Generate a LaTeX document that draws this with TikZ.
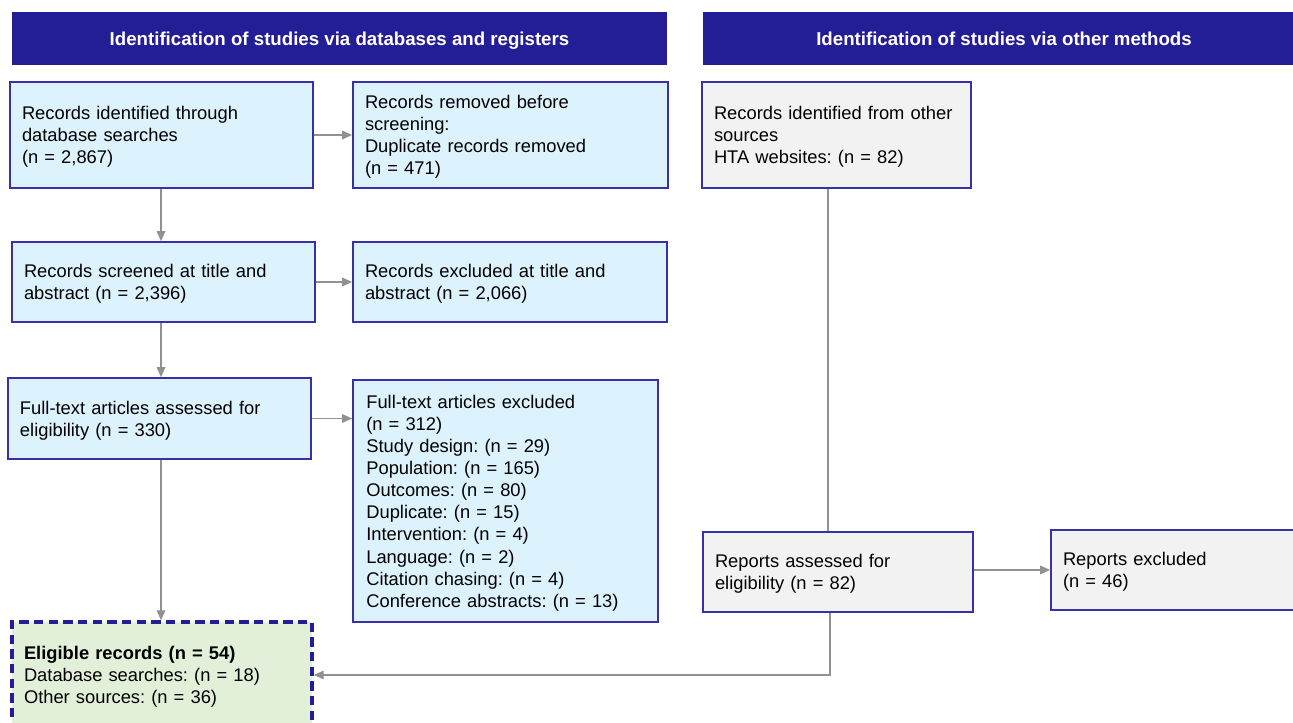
\documentclass[tikz,border=0pt]{standalone}
\usepackage{fontspec}
\setmainfont{Liberation Sans}
\usetikzlibrary{arrows.meta}
\definecolor{hdr}{RGB}{35,30,150}
\definecolor{bord}{RGB}{55,48,168}
\definecolor{lblue}{RGB}{220,242,252}
\definecolor{lgray}{RGB}{242,242,242}
\definecolor{lgreen}{RGB}{226,240,217}
\definecolor{arr}{RGB}{145,145,145}
\frenchspacing
\begin{document}
\begin{tikzpicture}[x=0.75pt,y=-0.75pt,
  header/.style={fill=hdr, draw=none, text=white, font=\fontsize{14pt}{16pt}\selectfont\bfseries, minimum height=39.75pt, inner sep=0pt, text depth=0pt},
  box/.style={draw=bord, line width=1.3pt, inner xsep=9pt, inner ysep=0pt, align=left, font=\fontsize{13.75pt}{16.6pt}\selectfont, execute at begin node={\rule{0pt}{13pt}}},
  bluebox/.style={box, fill=lblue},
  graybox/.style={box, fill=lgray},
  eligbox/.style={box, fill=lgreen, draw=hdr, line width=2.6pt, dash pattern=on 7pt off 4pt},
  conn/.style={draw=arr, line width=0.9pt, -{Triangle[length=7.5pt,width=6.5pt]}},
  plainconn/.style={draw=arr, line width=0.9pt}
]
\useasboundingbox (0,0) rectangle (1293,723);
\fill[white] (0,0) rectangle (1293,723);

\node[header, minimum width=491.25pt] (hL) at (339.5,38.5) {Identification of studies via databases and registers};
\node[header, minimum width=451.5pt] (hR) at (1004,38.5) {Identification of studies via other methods};

\node[bluebox, text width=209.25pt, minimum height=79.5pt] (A) at (161.5,135) {Records identified through\\database searches\\(n = 2,867)};
\node[bluebox, text width=218.25pt, minimum height=79.5pt] (B) at (510.5,135) {Records removed before\\screening:\\Duplicate records removed\\(n = 471)};
\node[bluebox, text width=209.25pt, minimum height=60pt] (C) at (163.5,282) {Records screened at title and\\abstract (n = 2,396)};
\node[bluebox, text width=217.5pt, minimum height=60pt] (D) at (510,282) {Records excluded at title and\\abstract (n = 2,066)};
\node[bluebox, text width=209.25pt, minimum height=60.75pt] (E) at (159.5,418.5) {Full-text articles assessed for\\eligibility (n = 330)};
\node[bluebox, text width=208.75pt, minimum height=181.5pt, inner xsep=10pt] (F) at (505.5,501) {Full-text articles excluded\\(n = 312)\\Study design: (n = 29)\\Population: (n = 165)\\Outcomes: (n = 80)\\Duplicate: (n = 15)\\Intervention: (n = 4)\\Language: (n = 2)\\Citation chasing: (n = 4)\\Conference abstracts: (n = 13)};
\node[eligbox, text width=207pt, minimum height=79.5pt] (G) at (162,675) {\textbf{Eligible records (n = 54)}\\Database searches: (n = 18)\\Other sources: (n = 36)};
\node[graybox, text width=183.75pt, minimum height=79.5pt] (H) at (836.5,135) {Records identified from other\\sources\\HTA websites: (n = 82)};
\node[graybox, text width=184.5pt, minimum height=60pt] (I) at (838,572) {Reports assessed for\\eligibility (n = 82)};
\node[graybox, text width=183.75pt, minimum height=60pt] (J) at (1185.5,570) {Reports excluded\\(n = 46)};

\coordinate (xa) at (161,0);
\coordinate (xh) at (828,0);
\coordinate (xi) at (830,0);

\draw[conn] (A.east) -- (A.east -| B.west);
\draw[conn] (xa |- A.south) -- (xa |- C.north);
\draw[conn] (C.east) -- (C.east -| D.west);
\draw[conn] (xa |- C.south) -- (xa |- E.north);
\draw[conn] (E.east) -- (E.east -| F.west);
\draw[conn] (xa |- E.south) -- (xa |- G.north);
\draw[plainconn] (xh |- H.south) -- (xh |- I.north);
\draw[conn] (I.east |- J.west) -- (J.west);
\draw[conn] (xi |- I.south) |- (G.east);
\end{tikzpicture}
\end{document}
